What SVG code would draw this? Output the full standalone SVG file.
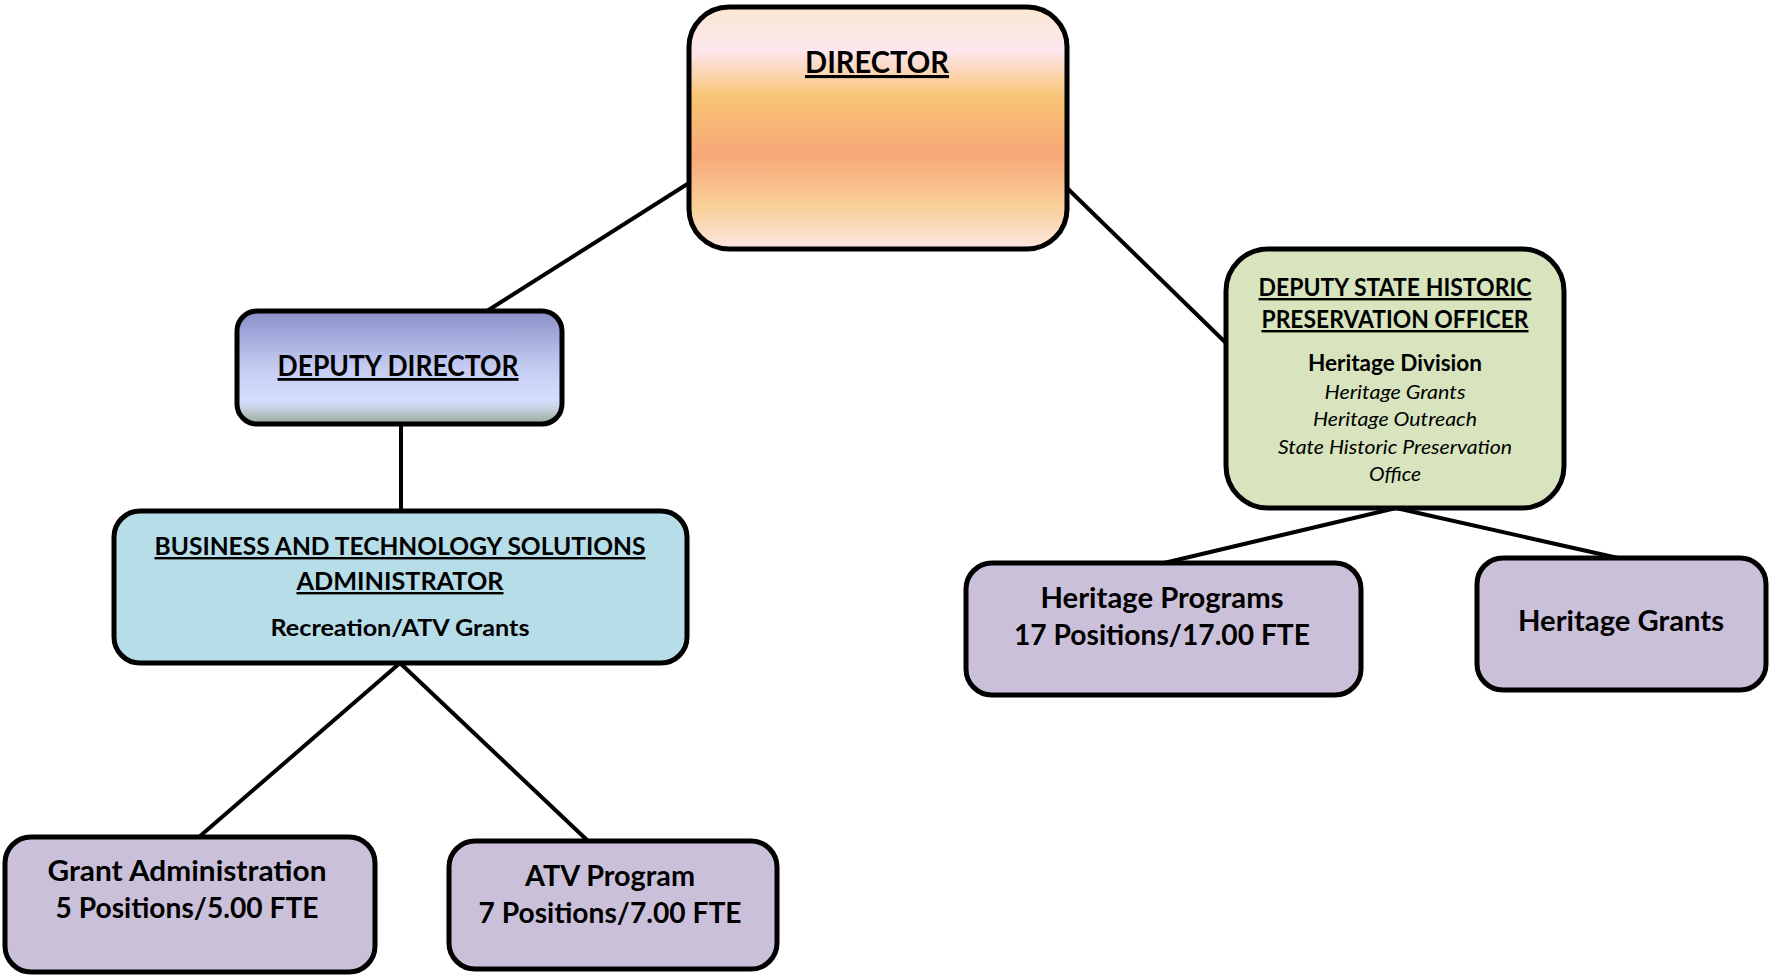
<svg xmlns="http://www.w3.org/2000/svg" width="1769" height="975" viewBox="0 0 1769 975">
<defs>
<linearGradient id="gDir" x1="0" y1="0" x2="0" y2="1">
<stop offset="0" stop-color="#fbe8d0"/>
<stop offset="0.18" stop-color="#fde6ee"/>
<stop offset="0.37" stop-color="#f8c474"/>
<stop offset="0.61" stop-color="#f8a878"/>
<stop offset="0.83" stop-color="#f9d09a"/>
<stop offset="1" stop-color="#fde6e2"/>
</linearGradient>
<linearGradient id="gDD" x1="0" y1="0" x2="0" y2="1">
<stop offset="0" stop-color="#8a8fc8"/>
<stop offset="0.5" stop-color="#c4ccf2"/>
<stop offset="0.78" stop-color="#d5ddfd"/>
<stop offset="0.86" stop-color="#c8d2e4"/>
<stop offset="1" stop-color="#96a896"/>
</linearGradient>
</defs>
<style>
.box{stroke:#000;stroke-width:5}
.pur{fill:#cbc0da}
.t{font-family:Lato,"Open Sans","Liberation Sans",sans-serif;font-weight:bold;fill:#000;text-anchor:middle}
.u{text-decoration:underline}
.i{font-weight:normal;font-style:italic}
.c{stroke:#000;stroke-width:4;fill:none}
</style>
<g id="connectors">
<line class="c" x1="689" y1="183" x2="487" y2="311"/>
<line class="c" x1="1066" y1="187" x2="1226" y2="343"/>
<line class="c" x1="401" y1="424" x2="401" y2="511"/>
<line class="c" x1="400" y1="663" x2="199" y2="837"/>
<line class="c" x1="400" y1="663" x2="588" y2="841"/>
<line class="c" x1="1396" y1="508" x2="1164" y2="563"/>
<line class="c" x1="1396" y1="508" x2="1618" y2="558"/>
</g>
<g id="director">
<rect class="box" x="689" y="7" width="378" height="242" rx="40" fill="url(#gDir)"/>
<text class="t u" x="877" y="73" font-size="31" textLength="144" lengthAdjust="spacingAndGlyphs">DIRECTOR</text>
</g>
<g id="deputy-director">
<rect class="box" x="237" y="311" width="325" height="113" rx="20" fill="url(#gDD)"/>
<text class="t u" x="398" y="376" font-size="28" textLength="241" lengthAdjust="spacingAndGlyphs">DEPUTY DIRECTOR</text>
</g>
<g id="bts-admin">
<rect class="box" x="114" y="511" width="573" height="152" rx="26" fill="#b7dde8"/>
<text class="t u" x="400" y="555" font-size="24" textLength="491" lengthAdjust="spacingAndGlyphs">BUSINESS AND TECHNOLOGY SOLUTIONS</text>
<text class="t u" x="400" y="590" font-size="24" textLength="207" lengthAdjust="spacingAndGlyphs"> ADMINISTRATOR</text>
<text class="t" x="400" y="636" font-size="22" textLength="259" lengthAdjust="spacingAndGlyphs">Recreation/ATV Grants</text>
</g>
<g id="dshpo">
<rect class="box" x="1226" y="249" width="338" height="259" rx="42" fill="#d7e4bd"/>
<text class="t u" x="1395" y="296" font-size="24" textLength="273" lengthAdjust="spacingAndGlyphs">DEPUTY STATE HISTORIC</text>
<text class="t u" x="1395" y="328" font-size="24" textLength="267" lengthAdjust="spacingAndGlyphs">PRESERVATION OFFICER</text>
<text class="t" x="1395" y="371" font-size="22" textLength="174" lengthAdjust="spacingAndGlyphs">Heritage Division</text>
<text class="t i" x="1395" y="399" font-size="19" textLength="141" lengthAdjust="spacingAndGlyphs">Heritage  Grants</text>
<text class="t i" x="1395" y="426" font-size="19" textLength="164" lengthAdjust="spacingAndGlyphs">Heritage  Outreach</text>
<text class="t i" x="1395" y="454" font-size="19" textLength="234" lengthAdjust="spacingAndGlyphs">State  Historic  Preservation</text>
<text class="t i" x="1395" y="481" font-size="19" textLength="52" lengthAdjust="spacingAndGlyphs">Office</text>
</g>
<g id="heritage-programs">
<rect class="box pur" x="966" y="563" width="395" height="132" rx="26"/>
<text class="t" x="1162" y="608" font-size="29" textLength="243" lengthAdjust="spacingAndGlyphs">Heritage Programs</text>
<text class="t" x="1162" y="645" font-size="29" textLength="296" lengthAdjust="spacingAndGlyphs">17 Positions/17.00 FTE</text>
</g>
<g id="heritage-grants">
<rect class="box pur" x="1477" y="558" width="289" height="132" rx="26"/>
<text class="t" x="1621" y="631" font-size="29" textLength="206" lengthAdjust="spacingAndGlyphs">Heritage Grants</text>
</g>
<g id="grant-admin">
<rect class="box pur" x="5" y="837" width="370" height="135" rx="26"/>
<text class="t" x="187" y="881" font-size="29" textLength="279" lengthAdjust="spacingAndGlyphs">Grant Administration</text>
<text class="t" x="187" y="918" font-size="29" textLength="263" lengthAdjust="spacingAndGlyphs">5 Positions/5.00 FTE</text>
</g>
<g id="atv-program">
<rect class="box pur" x="449" y="841" width="328" height="128" rx="26"/>
<text class="t" x="610" y="886" font-size="29" textLength="170" lengthAdjust="spacingAndGlyphs">ATV Program</text>
<text class="t" x="610" y="923" font-size="29" textLength="263" lengthAdjust="spacingAndGlyphs">7 Positions/7.00 FTE</text>
</g>
</svg>
